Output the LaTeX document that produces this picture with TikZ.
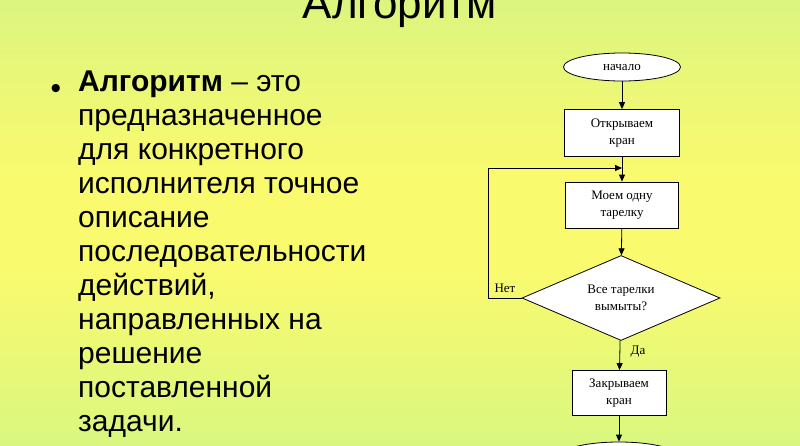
\documentclass[tikz,border=0pt]{standalone}
\usepackage{fontspec}
\setmainfont{Liberation Serif}
\newfontfamily\arialfont{Liberation Sans}
\usetikzlibrary{shapes.geometric,arrows.meta}
\pgfdeclareverticalshading{slidebg}{100bp}{
  rgb(0bp)=(0.70,0.96,0.64); rgb(25bp)=(0.85,0.97,0.50); rgb(45bp)=(0.98,0.98,0.43); rgb(55bp)=(0.98,0.98,0.43); rgb(75bp)=(0.86,0.96,0.50); rgb(100bp)=(0.74,0.92,0.55)}
\begin{document}
\begin{tikzpicture}[x=1pt,y=-1pt]
  % Define styles
  \tikzset{
    startstop/.style={ellipse, draw=black, fill=white, thick, minimum width=117pt, minimum height=28pt, font=\fontsize{13}{13}\selectfont},
    action/.style={rectangle, draw=black, fill=white, thick, align=center, font=\fontsize{13}{17}\selectfont},
    decision/.style={diamond, draw=black, fill=white, thick, aspect=2.3, inner sep=1pt, align=center, font=\fontsize{13}{17}\selectfont},
    arrow/.style={thick,-{Triangle[length=7pt,width=6pt]}},
    lbl/.style={font=\fontsize{13}{13}\selectfont}
  }
  \useasboundingbox (0,0) rectangle (800,445);
  \shade[shading=slidebg] (0,0) rectangle (800,445);

  % Title and text
  \node (title) [anchor=base, font=\arialfont\fontsize{44}{44}\selectfont] at (400,18) {Алгоритм};
  \node (bullet) [anchor=base, font=\arialfont\fontsize{30}{30}\selectfont] at (56,98) {•};
  \node (defn) [anchor=north west, inner sep=0pt, align=left, font=\arialfont\fontsize{30}{34}\selectfont] at (78,71)
    {\textbf{Алгоритм} – это\\ предназначенное\\ для конкретного\\ исполнителя точное\\ описание\\ последовательности\\ действий,\\ направленных на\\ решение\\ поставленной\\ задачи.};

  % Nodes
  \node (start) [startstop] at (622,67) {начало};
  \node (open) [action, minimum width=115pt, minimum height=47pt] at (622,133) {Открываем\\ кран};
  \node (wash) [action, minimum width=113pt, minimum height=46pt] at (622,205) {Моем одну\\ тарелку};
  \node (check) [decision, minimum width=198pt, minimum height=85pt] at (621,298) {Все тарелки\\ вымыты?};
  \node (close) [action, minimum width=94pt, minimum height=45pt] at (619,393) {Закрываем\\ кран};
  \node (stop) [startstop] at (619,456) {};
  \coordinate (loopin) at (622,168);
  \coordinate (loopcorner) at (488,168);

  % Arrows
  \draw [arrow] (start) -- (open);
  \draw [arrow] (open) -- (wash);
  \draw [arrow] (wash) -- (check);
  \draw [arrow] (check) -- (close);
  \draw [arrow] (close) -- (stop);
  \draw [arrow] (check.west) -| (loopcorner) -- (loopin);

  % Labels on arrows
  \node (no) [lbl] at (505,288) {Нет};
  \node (yes) [lbl] at (638,352) {Да};
\end{tikzpicture}
\end{document}
